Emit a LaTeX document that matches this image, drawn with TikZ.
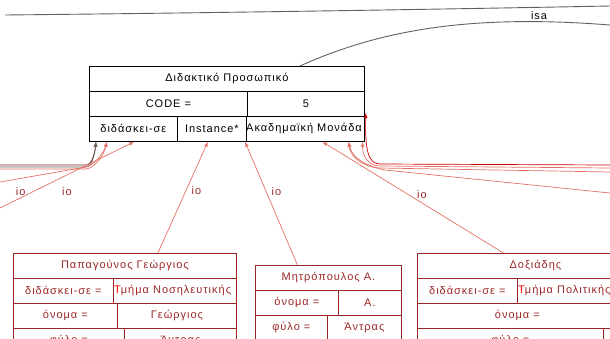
\documentclass[tikz,border=0pt]{standalone}
\usepackage{fontspec}
\setmainfont{Liberation Sans}[LetterSpace=9]
\usetikzlibrary{positioning}

\definecolor{iorot}{RGB}{228,112,100}
\definecolor{boxrot}{RGB}{155,38,38}
\definecolor{isagrau}{RGB}{95,98,90}

\tikzset{
	feld/.style={draw, line width=0.8pt, minimum height=25pt, inner sep=0pt, anchor=north west, font=\fontsize{11}{13}\selectfont},
	ifeld/.style={feld, draw=boxrot, text=boxrot},
	io/.style={iorot, line width=0.7pt, ->},
	iotext/.style={text=boxrot, font=\fontsize{11}{13}\selectfont},
	isa/.style={isagrau, line width=0.9pt},
}

\begin{document}
\begin{tikzpicture}[x=1pt, y=-1pt, >=latex]
	\useasboundingbox (0,0) rectangle (610,338);
	\clip (0,0) rectangle (610,338);
	
	% Klasse oben
	\node[feld, minimum width=275pt] (mtitel) at (89,66) {Διδακτικό Προσωπικό};
	\node[feld, minimum width=158pt] (mcode) at (89,91) {CODE =};
	\node[feld, minimum width=117pt] (mwert) at (247,91) {5};
	\node[feld, minimum width=88pt] (mlehrt) at (89,116) {διδάσκει-σε};
	\node[feld, minimum width=69pt] (minst) at (177,116) {Instance*};
	\node[feld, minimum width=118pt] (meinh) at (246,116) {};
	\begin{scope}
		\clip ([xshift=-3pt]meinh.south west) rectangle (meinh.north east);
		\node[anchor=west, inner sep=0pt, font=\fontsize{11}{13}\selectfont] (meinhtext) at ([xshift=0pt]meinh.west) {Ακαδημαϊκή Μονάδα};
	\end{scope}
	
	% Instanz links
	\node[ifeld, minimum width=223pt] (atitel) at (13,253) {Παπαγούνος Γεώργιος};
	\node[ifeld, minimum width=100pt] (alehrt) at (13,278) {διδάσκει-σε =};
	\node[ifeld, minimum width=123pt] (awert) at (113,278) {};
	\begin{scope}
		\clip (awert.south west) rectangle (awert.north east);
		\node[anchor=west, inner sep=0pt, text=boxrot, font=\fontsize{11}{13}\selectfont] (awerttext) at ([xshift=1pt]awert.west) {{\color{red}Τ}μήμα Νοσηλευτικής};
	\end{scope}
	\node[ifeld, minimum width=104pt] (aname) at (13,303) {όνομα =};
	\node[ifeld, minimum width=119pt] (anamew) at (117,303) {Γεώργιος};
	\node[ifeld, minimum width=111pt] (aphyl) at (13,328) {φύλο =};
	\node[ifeld, minimum width=112pt] (aphylw) at (124,328) {Άντρας};
	
	% Instanz Mitte
	\node[ifeld, minimum width=146pt] (btitel) at (255,265) {Μητρόπουλος Α.};
	\node[ifeld, minimum width=83pt] (bname) at (255,290) {όνομα =};
	\node[ifeld, minimum width=63pt] (bnamew) at (338,290) {Α.};
	\node[ifeld, minimum width=72pt] (bphyl) at (255,315) {φύλο =};
	\node[ifeld, minimum width=74pt] (bphylw) at (327,315) {Άντρας};
	
	% Instanz rechts
	\node[ifeld, minimum width=236pt] (ctitel) at (417,253) {Δοξιάδης};
	\node[ifeld, minimum width=100pt] (clehrt) at (417,278) {διδάσκει-σε =};
	\node[ifeld, minimum width=136pt] (cwert) at (517,278) {};
	\node[anchor=west, inner sep=0pt, text=boxrot, font=\fontsize{11}{13}\selectfont] (cwerttext) at ([xshift=1pt]cwert.west) {{\color{red}Τ}μήμα Πολιτικής};
	\node[ifeld, minimum width=200pt] (cname) at (417,303) {όνομα =};
	\node[ifeld, minimum width=186pt] (cphyl) at (417,328) {φύλο =};
	\node[ifeld, minimum width=50pt] (cphylw) at (603,328) {};
	
	% isa
	\coordinate (toben0) at (5,15);
	\coordinate (toben1) at (610,6);
	\coordinate (tisa) at (610,25);
	\draw[isa] (toben0) .. controls (200,13) and (400,10) .. (toben1);
	\draw[isa] ([xshift=73pt]mtitel.north) .. controls (380,30) and (470,14) .. (tisa)
		node[pos=0.82, above=-2pt, black, font=\fontsize{11}{13}\selectfont] {isa};
	
	% io von den Instanzen
	\draw[io] ([xshift=33pt]atitel.north) -- node[pos=0.56, right=2pt, iotext] {io} ([xshift=-4pt]minst.south);
	\draw[io] ([xshift=-31pt]btitel.north) -- node[pos=0.6, right=2pt, iotext] {io} ([xshift=-1pt]meinh.south west);
	\draw[io] ([xshift=-32pt]ctitel.north) -- node[pos=0.45, above=1pt, iotext] {io} ([xshift=17pt]meinh.south);
	
	% io von links
	\coordinate (wl1) at (0,165);
	\coordinate (wl2) at (0,167);
	\coordinate (wl3) at (0,169);
	\coordinate (wl4) at (0,182);
	\coordinate (wl5) at (0,208);
	\draw[io, draw=boxrot!80!black] (wl1) -- (86,165) .. controls (92,165) and (95,152) .. ([xshift=7pt]mlehrt.south west);
	\draw[io, draw=isagrau] (wl2) -- (86,167) .. controls (92,167) and (95,153) .. ([xshift=7pt]mlehrt.south west);
	\draw[io] (wl3) -- (86,169) .. controls (95,168) and (104,155) .. ([xshift=18pt]mlehrt.south west);
	\draw[io] (wl4) -- node[pos=0.24, below=5pt, iotext] {io} (86,167) .. controls (95,165) and (104,152) .. ([xshift=18pt]mlehrt.south west);
	\draw[io] (wl5) -- node[pos=0.5, below=9pt, iotext] {io} ([xshift=45pt]mlehrt.south west);
	
	% io von rechts
	\coordinate (wr1) at (610,165);
	\coordinate (wr2) at (610,168);
	\coordinate (wr3) at (610,172);
	\coordinate (wr4) at (610,193);
	\draw[io, draw=red!80!black] (wr1) -- (380,164) .. controls (368,164) and (365,150) .. ([xshift=1pt, yshift=3pt]meinh.north east);
	\draw[io] (wr2) -- (380,166) .. controls (368,166) and (362,155) .. ([xshift=-2pt]meinh.south east);
	\draw[io] (wr3) -- (380,168) .. controls (366,168) and (350,158) .. ([xshift=-16pt]meinh.south east);
	\draw[io] (wr4) -- (385,170) .. controls (366,166) and (352,158) .. ([xshift=-16pt]meinh.south east);
\end{tikzpicture}
\end{document}
